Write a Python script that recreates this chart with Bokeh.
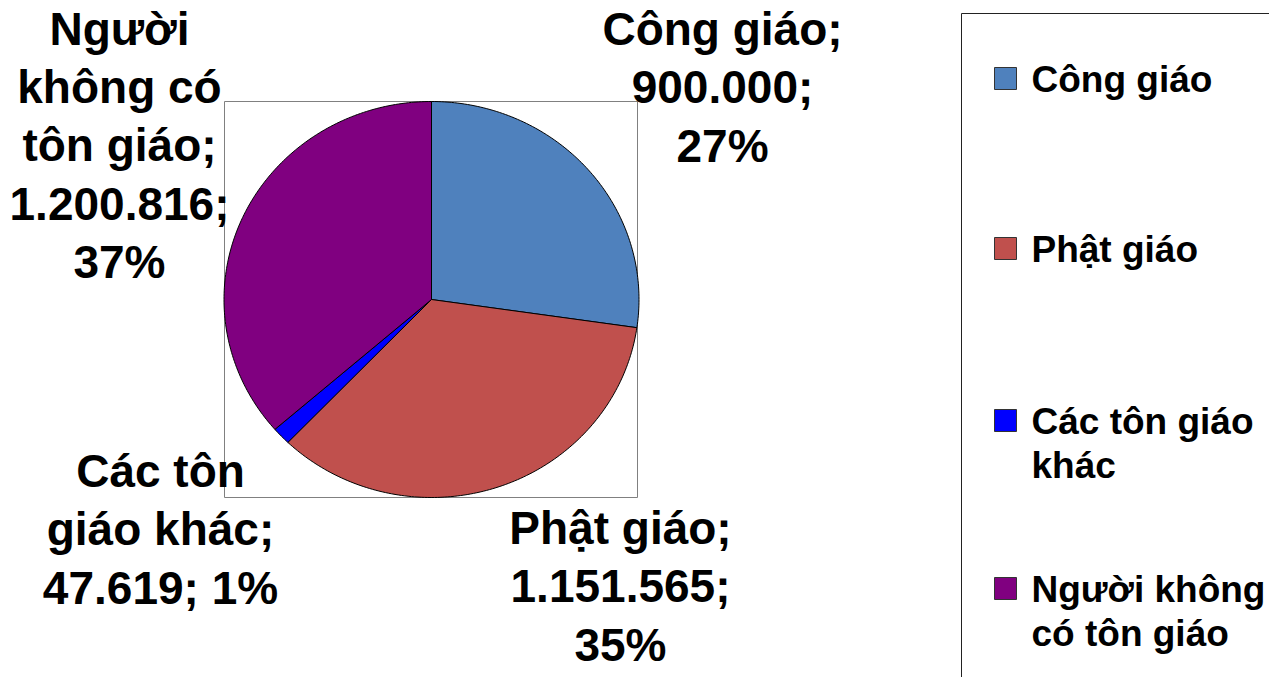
import numpy as np
from bokeh.plotting import figure
from bokeh.models import Range1d
from bokeh.core.properties import value
from bokeh.embed import file_html
from bokeh.resources import INLINE

# ---- data ----
categories = ["Công giáo", "Phật giáo", "Các tôn giáo khác", "Người không có tôn giáo"]
values = [900000, 1151565, 47619, 1200816]
percent_labels = ["27%", "35%", "1%", "37%"]
colors = ["#4F81BD", "#C0504D", "#0000FF", "#800080"]
legend_labels = ["Công giáo", "Phật giáo", "Các tôn giáo\nkhác", "Người không\ncó tôn giáo"]
label_lines = [
    ["Công giáo;", "{v};", "{p}"],
    ["Phật giáo;", "{v};", "{p}"],
    ["Các tôn", "giáo khác;", "{v}; {p}"],
    ["Người", "không có", "tôn giáo;", "{v};", "{p}"],
]

FONT = value("Liberation Sans")

p = figure(width=1269, height=677, output_backend="svg", toolbar_location=None,
           x_range=Range1d(0, 1269), y_range=Range1d(677, 0),
           min_border=0, x_axis_location=None, y_axis_location=None)
p.grid.visible = False
p.outline_line_color = None
p.background_fill_color = "white"

# plot area frame
p.quad(left=[224], right=[637], top=[101], bottom=[497],
       fill_color=None, line_color="#808080", line_width=1)

# pie as ellipse wedges (screen coordinates, y downward)
cx, cy, rx, ry = 431, 299, 207.5, 198
total = float(sum(values))
fracs = np.array(values) / total
ends = np.cumsum(fracs) * 2 * np.pi
starts = ends - fracs * 2 * np.pi
xs, ys = [], []
for a0, a1 in zip(starts, ends):
    n = max(int((a1 - a0) / (2 * np.pi) * 400), 4)
    th = np.linspace(a0, a1, n)
    xs.append(np.concatenate([[cx], cx + rx * np.sin(th), [cx]]).tolist())
    ys.append(np.concatenate([[cy], cy - ry * np.cos(th), [cy]]).tolist())
p.patches(xs, ys, fill_color=colors, line_color="black", line_width=1)

# data labels
def fmt(v):
    return f"{v:,}".replace(",", ".")

label_text = []
for lines, v, pc in zip(label_lines, values, percent_labels):
    label_text.append("\n".join(l.format(v=fmt(v), p=pc) for l in lines))
label_x = [722, 620, 160, 119]
label_y = [87, 586, 529, 145]
p.text(x=label_x, y=label_y, text=label_text, text_font=FONT, text_font_style="bold",
       text_font_size="46px", text_align="center", text_baseline="middle",
       text_line_height=1.124, text_color="black")

# legend box
p.quad(left=[961], right=[1300], top=[13], bottom=[720],
       fill_color=None, line_color="#222222", line_width=1)
leg_y = [78, 248, 420, 588]
p.rect(x=[1005] * 4, y=leg_y, width=22, height=22, fill_color=colors,
       line_color="#333333", line_width=1)
p.text(x=[1031] * 4, y=[y - 20 for y in leg_y], text=legend_labels, text_font=FONT,
       text_font_style="bold", text_font_size="37px", text_align="left",
       text_baseline="top", text_line_height=1.08, text_color="black")

open("out.html", "w").write(file_html(p, INLINE))
